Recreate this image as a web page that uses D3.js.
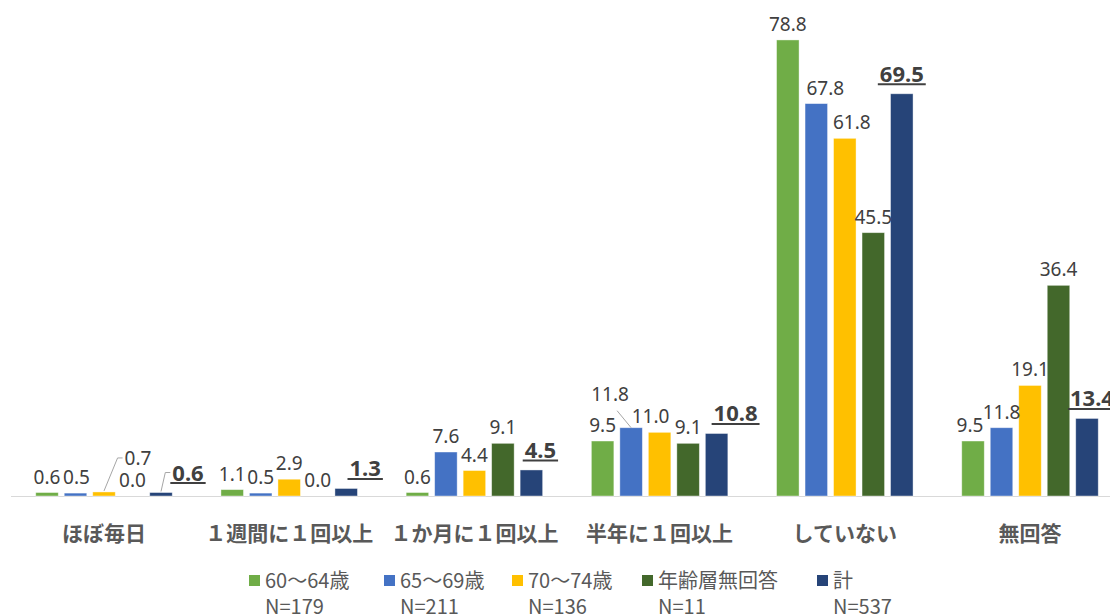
<!DOCTYPE html>
<html>
<head>
<meta charset="utf-8">
<script src="https://cdn.jsdelivr.net/npm/d3@7"></script>
<style>
body { margin: 0; background: #fff; overflow: hidden; }
svg { display: block; }
</style>
</head>
<body>
<div id="chart"></div>
<script>
// data (%)
const categories = ["ほぼ毎日", "１週間に１回以上", "１か月に１回以上", "半年に１回以上", "していない", "無回答"];
const seriesNames = ["60～64歳", "65～69歳", "70～74歳", "年齢層無回答", "計"];
const seriesN = ["N=179", "N=211", "N=136", "N=11", "N=537"];
const age6064 = [0.6, 1.1, 0.6, 9.5, 78.8, 9.5];
const age6569 = [0.5, 0.5, 7.6, 11.8, 67.8, 11.8];
const age7074 = [0.7, 2.9, 4.4, 11.0, 61.8, 19.1];
const ageNone = [0.0, 0.0, 9.1, 9.1, 45.5, 36.4];
const total   = [0.6, 1.3, 4.5, 10.8, 69.5, 13.4];
const seriesValues = [age6064, age6569, age7074, ageNone, total];

const colors = ["#70AD47", "#4472C4", "#FFC000", "#43682B", "#264478"];

// hand placed data labels (series index, category index)
const nudges = {
    "1,0": {dx: 1},
    "2,0": {dx: 34, dy: -18, leader: "elbow"},
    "4,0": {dx: 27, leader: "elbow"},
    "4,1": {dx: 19},
    "4,2": {dx: 9},
    "1,3": {dx: -21, dy: -18, leader: "diag"},
    "2,3": {dx: -9},
    "4,3": {dx: 19},
    "1,4": {dx: 9},
    "2,4": {dx: 7},
    "0,5": {dx: -3},
    "4,5": {dx: 5}
};

const width = 1110, height = 616,
    baseY = 496, topY = 33,
    legendX = [249, 384, 512, 642, 817];

const svg = d3.select("#chart").append("svg")
    .attr("width", width)
    .attr("height", height);

const x0 = d3.scaleBand()
    .domain(categories)
    .range([11.4, 1122.6])
    .paddingInner(0.263)
    .paddingOuter(0.1315);

const x1 = d3.scaleBand()
    .domain(d3.range(seriesNames.length))
    .range([0, x0.bandwidth()])
    .paddingInner(0.21);

const y = d3.scaleLinear()
    .domain([0, 80])
    .range([baseY, topY]);

// axis line
svg.append("line")
    .attr("x1", 11).attr("x2", width)
    .attr("y1", baseY + 0.5).attr("y2", baseY + 0.5)
    .attr("stroke", "#d9d9d9")
    .attr("stroke-width", 1);

let cells = [];
seriesValues.forEach((vals, s) => {
    vals.forEach((v, c) => cells.push({s: s, c: c, v: v, cat: categories[c]}));
});

const bars = svg.append("g");
bars.selectAll("rect")
    .data(cells.filter(d => d.v > 0))
    .enter().append("rect")
    .attr("x", d => x0(d.cat) + x1(d.s))
    .attr("y", d => y(d.v))
    .attr("width", x1.bandwidth())
    .attr("height", d => baseY - y(d.v))
    .attr("fill", d => colors[d.s])
    .attr("stroke", "#ffffff")
    .attr("stroke-opacity", 0.5)
    .attr("stroke-width", 0.8);

// data labels
const labels = svg.append("g");
const leaders = svg.append("g");

cells.forEach(d => {
    const n = nudges[d.s + "," + d.c] || {};
    const isTotal = d.s === 4;
    const cx = x0(d.cat) + x1(d.s) + x1.bandwidth() / 2;
    const top = y(d.v);
    const tx = cx + (n.dx || 0);
    const ty = (isTotal ? top - 12 : top - 9) + (n.dy || 0);

    const t = labels.append("text")
        .attr("x", tx)
        .attr("y", ty)
        .attr("text-anchor", "middle")
        .attr("font-family", "'Noto Sans', sans-serif")
        .attr("font-size", isTotal ? "22px" : "19px")
        .attr("font-weight", isTotal ? "bold" : "normal")
        .attr("fill", "#404040")
        .text(d.v.toFixed(1));

    const w = t.node().getComputedTextLength();
    const left = tx - w / 2;
    const cy = ty - (isTotal ? 8 : 7);

    if (isTotal) {
        labels.append("line")
            .attr("x1", left - 2).attr("x2", tx + w / 2 + 2)
            .attr("y1", ty + 2.5).attr("y2", ty + 2.5)
            .attr("stroke", "#404040")
            .attr("stroke-width", 2);
    }

    if (n.leader === "elbow") {
        leaders.append("polyline")
            .attr("points", [[cx, top - 1], [left - 7, cy], [left - 2, cy]].join(" "))
            .attr("fill", "none")
            .attr("stroke", "#a6a6a6")
            .attr("stroke-width", 1);
    } else if (n.leader === "diag") {
        leaders.append("line")
            .attr("x1", tx + 7).attr("y1", ty + 10)
            .attr("x2", cx).attr("y2", top)
            .attr("stroke", "#a6a6a6")
            .attr("stroke-width", 1);
    }
});

// category labels
svg.append("g").selectAll("text")
    .data(categories)
    .enter().append("text")
    .attr("x", d => x0(d) + x0.bandwidth() / 2)
    .attr("y", 541)
    .attr("text-anchor", "middle")
    .attr("font-family", "'Noto Sans CJK JP', sans-serif")
    .attr("font-size", "21px")
    .attr("font-weight", "bold")
    .attr("fill", "#595959")
    .text(d => d);

// legend
const legend = svg.append("g").selectAll("g")
    .data(seriesNames)
    .enter().append("g")
    .attr("transform", (d, i) => "translate(" + legendX[i] + ",0)");

legend.append("rect")
    .attr("x", 0).attr("y", 575)
    .attr("width", 11).attr("height", 11)
    .attr("fill", (d, i) => colors[i]);

legend.append("text")
    .attr("x", 16).attr("y", 588)
    .attr("font-family", "'Noto Sans CJK JP', sans-serif")
    .attr("font-size", "20px")
    .attr("fill", "#595959")
    .text(d => d);

legend.append("text")
    .attr("x", 16).attr("y", 614)
    .attr("font-family", "'Noto Sans CJK JP', sans-serif")
    .attr("font-size", "20px")
    .attr("fill", "#595959")
    .text((d, i) => seriesN[i]);
</script>
</body>
</html>
